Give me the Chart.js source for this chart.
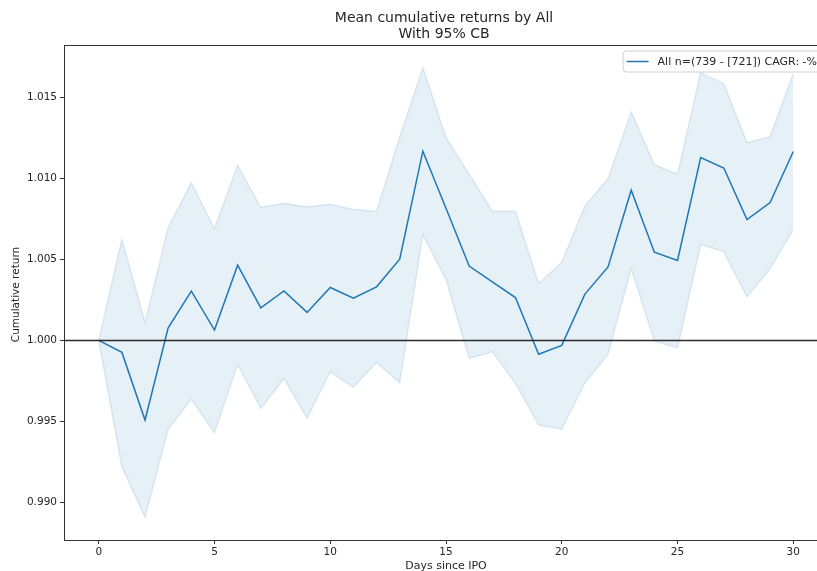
<!DOCTYPE html>
<html>
<head>
<meta charset="utf-8">
<script src="https://cdn.jsdelivr.net/npm/chart.js@4/dist/chart.umd.min.js"></script>
<style>
  html, body { margin: 0; padding: 0; background: #fff; overflow: hidden; }
  #wrap { width: 828px; height: 571px; }
</style>
</head>
<body>
<div id="wrap"><canvas id="c" width="828" height="571"></canvas></div>
<script>
// Days since IPO
const days = [0,1,2,3,4,5,6,7,8,9,10,11,12,13,14,15,16,17,18,19,20,21,22,23,24,25,26,27,28,29,30];

// Mean cumulative return per day
const meanReturn = [1.0000,0.99926,0.99508,1.00078,1.00304,1.00064,1.00465,1.00201,1.00306,1.00173,
  1.00327,1.00261,1.00331,1.00502,1.01169,1.00816,1.00459,1.00362,1.00265,0.99915,
  0.99969,1.00286,1.00454,1.00928,1.00545,1.00494,1.01130,1.01065,1.00747,1.00852,1.01167];

// 95% confidence band
const upperBand = [1.0000,1.00625,1.00111,1.00698,1.00975,1.00691,1.01082,1.00821,1.00848,1.00825,
  1.00841,1.00809,1.00798,1.01257,1.01685,1.01253,1.01027,1.00798,1.00798,1.00352,
  1.00482,1.00831,1.01000,1.01411,1.01086,1.01027,1.01654,1.01586,1.01222,1.01259,1.01648];
const lowerBand = [1.0000,0.99220,0.98907,0.99452,0.99636,0.99430,0.99852,0.99580,0.99765,0.99519,
  0.99806,0.99710,0.99864,0.99738,1.00654,1.00377,0.99889,0.99930,0.99735,0.99477,
  0.99451,0.99738,0.99915,1.00444,0.99996,0.99954,1.00594,1.00547,1.00269,1.00444,1.00685];

const baseline = 1.0;
const xTicks = [0,5,10,15,20,25,30];
const yTicks = [0.990,0.995,1.000,1.005,1.010,1.015];

const titleLines = ['Mean cumulative returns by All', 'With 95% CB'];
const xLabel = 'Days since IPO';
const yLabel = 'Cumulative return';
const legendLabel = 'All n=(739 - [721]) CAGR: -%';

const FONT = '"DejaVu Sans", "Liberation Sans", sans-serif';
const TEXT = '#262626';
const C0 = '#1f77b4';

const pts = arr => days.map((d, i) => ({ x: d, y: arr[i] }));

const decor = {
  id: 'decor',
  afterDatasetsDraw(chart) {
    const { ctx, chartArea: a, scales } = chart;
    const y1 = scales.y.getPixelForValue(baseline);
    ctx.save();
    // reference line at 1.0
    ctx.strokeStyle = '#2b2b2b';
    ctx.lineWidth = 1.5;
    ctx.beginPath(); ctx.moveTo(a.left, y1); ctx.lineTo(a.right, y1); ctx.stroke();
    // top spine
    ctx.strokeStyle = '#333';
    ctx.lineWidth = 1;
    ctx.beginPath(); ctx.moveTo(a.left, a.top + 0.5); ctx.lineTo(a.right, a.top + 0.5); ctx.stroke();
    ctx.restore();
  },
  afterDraw(chart) {
    const { ctx, chartArea: a } = chart;
    const cx = (a.left + a.right) / 2;
    ctx.save();
    ctx.fillStyle = TEXT;
    ctx.textAlign = 'center';
    ctx.textBaseline = 'middle';
    ctx.font = '14px ' + FONT;
    ctx.fillText(titleLines[0], cx - 2, 18);
    ctx.fillText(titleLines[1], cx - 2, 34);

    ctx.font = '11px ' + FONT;
    ctx.fillText(xLabel, cx, 566);
    ctx.font = '10.5px ' + FONT;
    ctx.save();
    ctx.translate(16, (a.top + a.bottom) / 2 + 2);
    ctx.rotate(-Math.PI / 2);
    ctx.fillText(yLabel, 0, 0);
    ctx.restore();

    // legend
    ctx.font = '11px ' + FONT;
    const tw = ctx.measureText(legendLabel).width;
    const bw = 4 + 22 + 9 + tw + 6;
    const bh = 21;
    const bx = a.right - 5 - bw;
    const by = a.top + 5.5;
    ctx.fillStyle = 'rgba(255,255,255,0.85)';
    ctx.strokeStyle = '#d0d0d0';
    ctx.lineWidth = 1;
    ctx.beginPath();
    if (ctx.roundRect) ctx.roundRect(bx + 0.5, by + 0.5, bw, bh, 3); else ctx.rect(bx + 0.5, by + 0.5, bw, bh);
    ctx.fill(); ctx.stroke();
    ctx.strokeStyle = C0;
    ctx.lineWidth = 1.5;
    ctx.beginPath(); ctx.moveTo(bx + 4, by + bh / 2 + 0.5); ctx.lineTo(bx + 26, by + bh / 2 + 0.5); ctx.stroke();
    ctx.fillStyle = TEXT;
    ctx.textAlign = 'left';
    ctx.fillText(legendLabel, bx + 35, by + bh / 2 + 1);
    ctx.restore();
  }
};

new Chart(document.getElementById('c'), {
  type: 'line',
  data: {
    datasets: [
      { label: 'mean', data: pts(meanReturn), borderColor: C0, borderWidth: 1.5, pointRadius: 0, fill: false, tension: 0 },
      { label: 'upper', data: pts(upperBand), borderColor: 'rgba(31,119,180,0.13)', borderWidth: 1.5, pointRadius: 0,
        backgroundColor: 'rgba(31,119,180,0.11)', fill: '+1', tension: 0 },
      { label: 'lower', data: pts(lowerBand), borderColor: 'rgba(31,119,180,0.13)', borderWidth: 1.5, pointRadius: 0,
        fill: false, tension: 0 }
    ]
  },
  options: {
    responsive: false,
    animation: false,
    devicePixelRatio: 1,
    layout: { padding: { left: 0, top: 45, right: 0, bottom: 0 } },
    plugins: { legend: { display: false }, tooltip: { enabled: false }, title: { display: false } },
    scales: {
      x: {
        type: 'linear', min: -1.5, max: 31.5,
        afterBuildTicks: s => { s.ticks = xTicks.map(v => ({ value: v })); },
        afterFit: s => { s.height = 31; },
        grid: { drawOnChartArea: false, drawTicks: true, tickLength: 4, tickColor: '#333', tickWidth: 1 },
        border: { display: true, color: '#333', width: 1 },
        ticks: { color: TEXT, font: { family: FONT, size: 10.5 }, padding: 2, maxRotation: 0, callback: v => String(v) }
      },
      y: {
        type: 'linear', min: 0.98767, max: 1.01825,
        afterBuildTicks: s => { s.ticks = yTicks.map(v => ({ value: v })); },
        afterFit: s => { s.width = 64; },
        grid: { drawOnChartArea: false, drawTicks: true, tickLength: 4, tickColor: '#333', tickWidth: 1 },
        border: { display: true, color: '#333', width: 1 },
        ticks: { color: TEXT, font: { family: FONT, size: 10.5 }, padding: 3, callback: v => Number(v).toFixed(3) }
      }
    }
  },
  plugins: [decor]
});
</script>
</body>
</html>
